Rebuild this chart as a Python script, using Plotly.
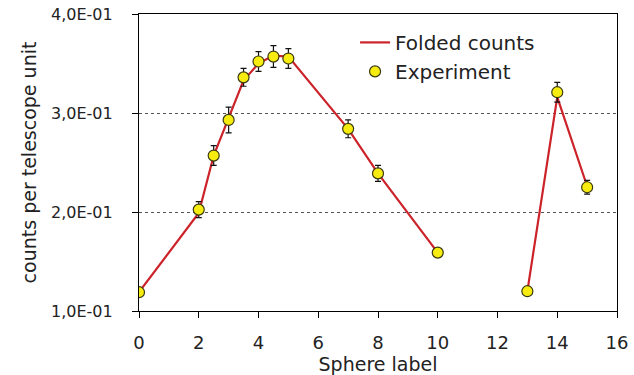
import plotly.graph_objects as go

sphere = [0, 2, 2.5, 3, 3.5, 4, 4.5, 5, 7, 8, 10, 13, 14, 15]
experiment = [0.119, 0.2024, 0.257, 0.293, 0.336, 0.352, 0.357, 0.355, 0.284, 0.239, 0.159, 0.120, 0.321, 0.225]
exp_err = [0.004, 0.008, 0.010, 0.013, 0.009, 0.010, 0.011, 0.010, 0.009, 0.008, 0.004, 0.004, 0.010, 0.007]

folded_x = [0, 2, 2.5, 3, 3.5, 4, 4.5, 5, 7, 8, 10, None, 13, 14, 15]
folded = [0.119, 0.199, 0.257, 0.295, 0.333, 0.350, 0.358, 0.357, 0.284, 0.239, 0.159, None, 0.120, 0.316, 0.226]

y_ticks = [0.1, 0.2, 0.3, 0.4]
y_labels = ["1,0E-01", "2,0E-01", "3,0E-01", "4,0E-01"]
x_ticks = [0, 2, 4, 6, 8, 10, 12, 14, 16]

FONT = "DejaVu Sans"
TXT = "#222222"

fig = go.Figure()
fig.add_trace(go.Scatter(
    x=folded_x, y=folded, mode="lines", name="Folded counts",
    line=dict(color="#cc2229", width=2.2), connectgaps=False,
))
fig.add_trace(go.Scatter(
    x=sphere, y=experiment, mode="markers", name="Experiment",
    marker=dict(symbol="circle", size=11, color="#f7ec0f",
                line=dict(color="#3a3a10", width=1.2)),
    error_y=dict(type="data", array=exp_err, visible=True,
                 color="#111111", thickness=1.2, width=3),
))

fig.update_layout(
    width=634, height=375,
    margin=dict(l=139, r=17, t=14, b=64),
    paper_bgcolor="white", plot_bgcolor="white",
    font=dict(family=FONT, color=TXT),
    showlegend=True,
    legend=dict(x=0.452, y=0.97, xanchor="left", yanchor="top",
                bgcolor="rgba(0,0,0,0)", font=dict(size=20, family=FONT, color=TXT),
                itemwidth=30, tracegroupgap=0),
)
fig.update_xaxes(
    range=[0, 16], tickvals=x_ticks, ticks="outside", ticklen=6, tickcolor="black",
    showline=True, linecolor="black", linewidth=1.2, mirror=True,
    showgrid=False, zeroline=False, automargin=False, ticklabelstandoff=9,
    tickfont=dict(size=18, family=FONT, color=TXT),
    title=dict(text="Sphere label", font=dict(size=19, family=FONT, color=TXT), standoff=0),
)
fig.update_yaxes(
    range=[0.1, 0.4], tickvals=y_ticks, ticktext=y_labels, ticks="outside", ticklen=6,
    tickcolor="black", showline=True, linecolor="black", linewidth=1.2, mirror=True,
    showgrid=True, gridcolor="#555555", griddash="dot", gridwidth=1, zeroline=False,
    automargin=False, ticklabelstandoff=16,
    tickfont=dict(size=16, family=FONT, color=TXT),
    title=dict(text="counts per telescope unit", font=dict(size=19, family=FONT, color=TXT), standoff=9),
)

fig.write_html("out.html")
